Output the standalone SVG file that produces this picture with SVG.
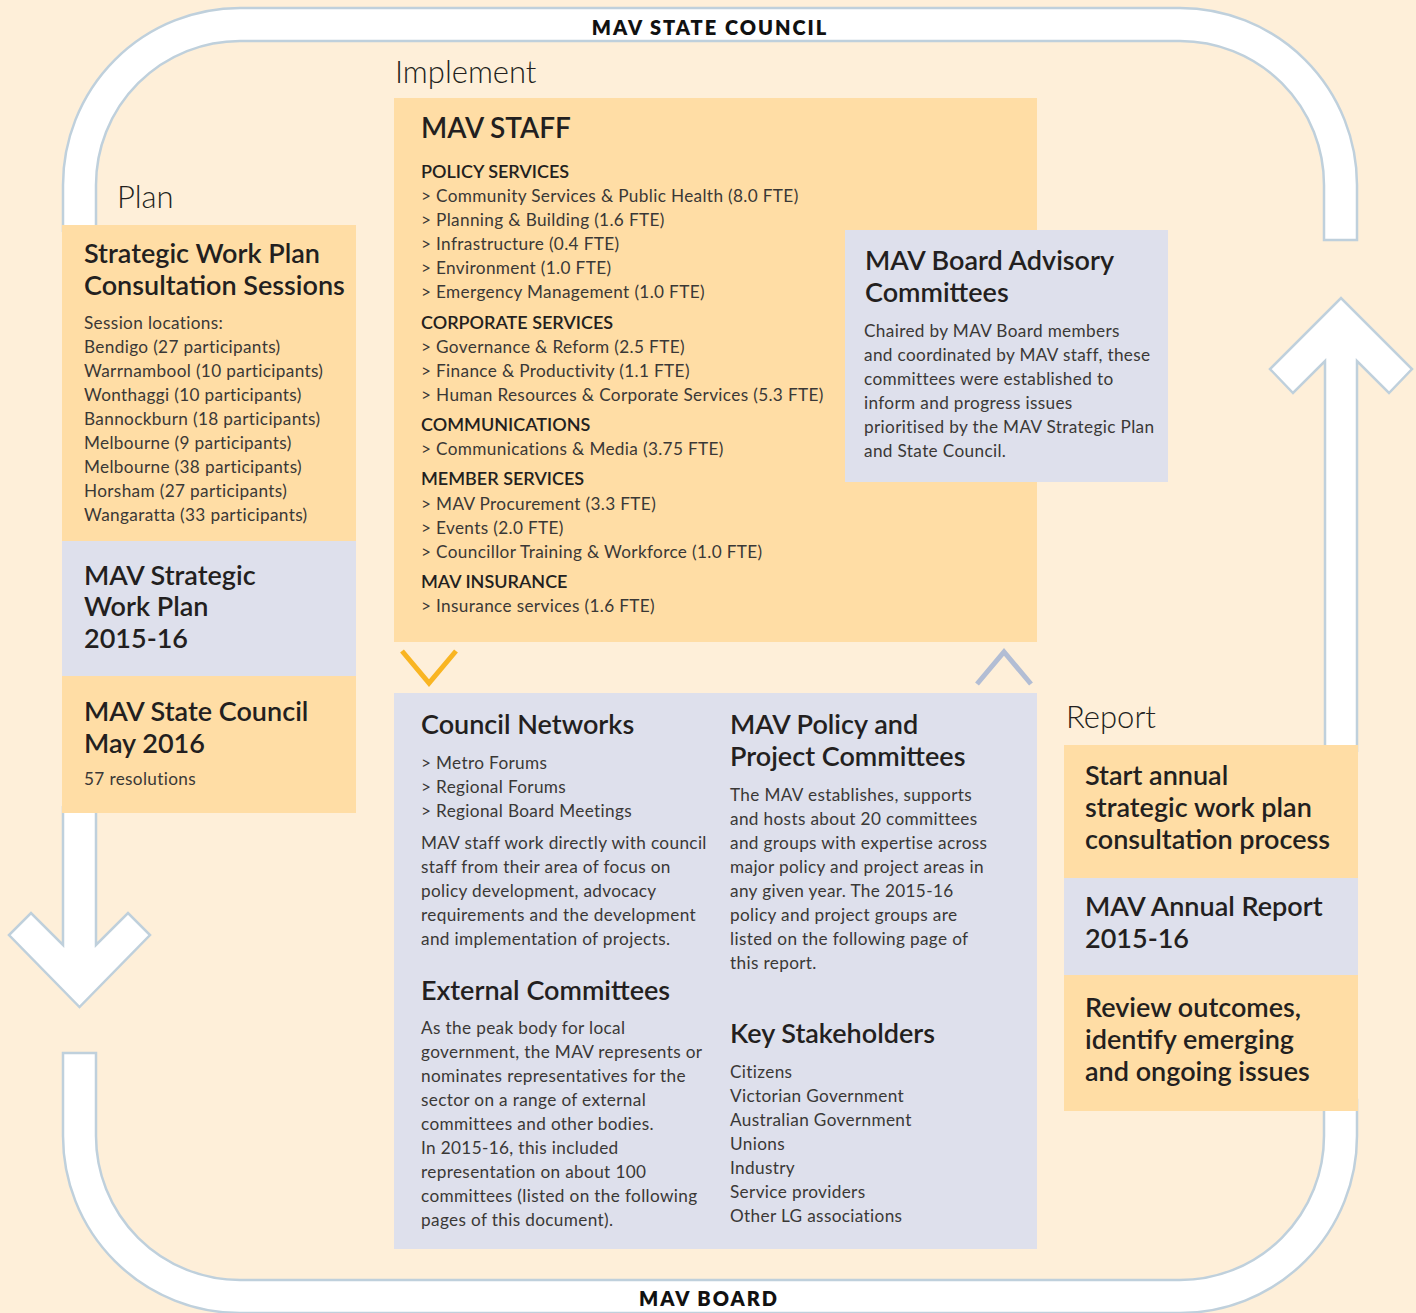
<svg xmlns="http://www.w3.org/2000/svg" width="1416" height="1313" viewBox="0 0 1416 1313">
<style>
text{font-family:Lato,"Liberation Sans",sans-serif;fill:#231F20}
.lbl{font-size:31px;font-weight:300}
.t{font-size:27px;font-weight:600}
.h{font-size:18px;font-weight:600}
.b{font-size:17.2px;letter-spacing:0.35px;fill:#3A3836}
.band{font-size:20px;font-weight:800;letter-spacing:2px;fill:#111;text-anchor:middle}
.or{fill:#FFDDA5}
.lv{fill:#DEE0EC}
.ring{fill:#FFFFFF;stroke:#BFD0DC;stroke-width:2.5;stroke-linejoin:miter}
.chev{fill:none;stroke-width:5}
</style>
<rect x="0" y="0" width="1416" height="1313" fill="#FEEFD9"/>
<g id="connectors">
<path class="ring" d="M63 232 L63 185 A177 177 0 0 1 240 8 L1180 8 A177 177 0 0 1 1357 185 L1357 240 L1324 240 L1324 185 A144 144 0 0 0 1180 41 L240 41 A144 144 0 0 0 96 185 L96 232"/>
<path class="ring" d="M63 806 L63 945 L31 913 L9 935 L79.5 1007 L150 935 L128 913 L96 945 L96 806"/>
<path class="ring" d="M63 1053 L96 1053 L96 1136 A144 144 0 0 0 240 1280 L1180 1280 A144 144 0 0 0 1324 1136 L1324 1100 L1357 1100 L1357 1136 A177 177 0 0 1 1180 1313 L240 1313 A177 177 0 0 1 63 1136 Z"/>
<path class="ring" d="M1325 752 L1325 361 L1293 393 L1270 369 L1341 298 L1412 369 L1389 393 L1357 361 L1357 752"/>
<polyline class="chev" stroke="#F9B522" points="402,651 429,683 456,651"/>
<polyline class="chev" stroke="#B2BDD4" points="977,684 1004,652 1031,684"/>
<text class="band" x="710" y="35">MAV STATE COUNCIL</text>
<text class="band" x="709" y="1306">MAV BOARD</text>
</g>
<g id="plan">
<text class="lbl" x="117" y="208">Plan</text>
<rect class="or" x="62" y="225" width="294" height="316"/>
<text class="t" x="84" y="263">Strategic Work Plan</text>
<text class="t" x="84" y="295">Consultation Sessions</text>
<text class="b" x="84" y="329">Session locations:</text>
<text class="b" x="84" y="353">Bendigo (27 participants)</text>
<text class="b" x="84" y="377">Warrnambool (10 participants)</text>
<text class="b" x="84" y="401">Wonthaggi (10 participants)</text>
<text class="b" x="84" y="425">Bannockburn (18 participants)</text>
<text class="b" x="84" y="449">Melbourne (9 participants)</text>
<text class="b" x="84" y="473">Melbourne (38 participants)</text>
<text class="b" x="84" y="497">Horsham (27 participants)</text>
<text class="b" x="84" y="521">Wangaratta (33 participants)</text>
</g>
<g id="strategic-plan">
<rect class="lv" x="62" y="541" width="294" height="135"/>
<text class="t" x="84" y="585">MAV Strategic</text>
<text class="t" x="84" y="616">Work Plan</text>
<text class="t" x="84" y="648">2015-16</text>
</g>
<g id="state-council">
<rect class="or" x="62" y="676" width="294" height="137"/>
<text class="t" x="84" y="721">MAV State Council</text>
<text class="t" x="84" y="753">May 2016</text>
<text class="b" x="84" y="785">57 resolutions</text>
</g>
<g id="mav-staff">
<text class="lbl" x="395" y="83">Implement</text>
<rect class="or" x="394" y="98" width="643" height="544"/>
<text class="t" x="421" y="138" style="font-size:28px">MAV STAFF</text>
<text class="h" x="421" y="178">POLICY SERVICES</text>
<text class="b" x="421" y="202">&gt; Community Services &amp; Public Health (8.0 FTE)</text>
<text class="b" x="421" y="226">&gt; Planning &amp; Building (1.6 FTE)</text>
<text class="b" x="421" y="250">&gt; Infrastructure (0.4 FTE)</text>
<text class="b" x="421" y="274">&gt; Environment (1.0 FTE)</text>
<text class="b" x="421" y="298">&gt; Emergency Management (1.0 FTE)</text>
<text class="h" x="421" y="329">CORPORATE SERVICES</text>
<text class="b" x="421" y="353">&gt; Governance &amp; Reform (2.5 FTE)</text>
<text class="b" x="421" y="377">&gt; Finance &amp; Productivity (1.1 FTE)</text>
<text class="b" x="421" y="401">&gt; Human Resources &amp; Corporate Services (5.3 FTE)</text>
<text class="h" x="421" y="431">COMMUNICATIONS</text>
<text class="b" x="421" y="455">&gt; Communications &amp; Media (3.75 FTE)</text>
<text class="h" x="421" y="485">MEMBER SERVICES</text>
<text class="b" x="421" y="510">&gt; MAV Procurement (3.3 FTE)</text>
<text class="b" x="421" y="534">&gt; Events (2.0 FTE)</text>
<text class="b" x="421" y="558">&gt; Councillor Training &amp; Workforce (1.0 FTE)</text>
<text class="h" x="421" y="588">MAV INSURANCE</text>
<text class="b" x="421" y="612">&gt; Insurance services (1.6 FTE)</text>
</g>
<g id="advisory">
<rect class="lv" x="845" y="230" width="323" height="252"/>
<text class="t" x="865" y="270">MAV Board Advisory</text>
<text class="t" x="865" y="302">Committees</text>
<text class="b" x="864" y="337">Chaired by MAV Board members</text>
<text class="b" x="864" y="361">and coordinated by MAV staff, these</text>
<text class="b" x="864" y="385">committees were established to</text>
<text class="b" x="864" y="409">inform and progress issues</text>
<text class="b" x="864" y="433">prioritised by the MAV Strategic Plan</text>
<text class="b" x="864" y="457">and State Council.</text>
</g>
<g id="networks">
<rect class="lv" x="394" y="693" width="643" height="556"/>
<text class="t" x="421" y="734">Council Networks</text>
<text class="b" x="421" y="769">&gt; Metro Forums</text>
<text class="b" x="421" y="793">&gt; Regional Forums</text>
<text class="b" x="421" y="817">&gt; Regional Board Meetings</text>
<text class="b" x="421" y="849">MAV staff work directly with council</text>
<text class="b" x="421" y="873">staff from their area of focus on</text>
<text class="b" x="421" y="897">policy development, advocacy</text>
<text class="b" x="421" y="921">requirements and the development</text>
<text class="b" x="421" y="945">and implementation of projects.</text>
</g>
<g id="external">
<text class="t" x="421" y="1000">External Committees</text>
<text class="b" x="421" y="1034">As the peak body for local</text>
<text class="b" x="421" y="1058">government, the MAV represents or</text>
<text class="b" x="421" y="1082">nominates representatives for the</text>
<text class="b" x="421" y="1106">sector on a range of external</text>
<text class="b" x="421" y="1130">committees and other bodies.</text>
<text class="b" x="421" y="1154">In 2015-16, this included</text>
<text class="b" x="421" y="1178">representation on about 100</text>
<text class="b" x="421" y="1202">committees (listed on the following</text>
<text class="b" x="421" y="1226">pages of this document).</text>
</g>
<g id="policy-committees">
<text class="t" x="730" y="734">MAV Policy and</text>
<text class="t" x="730" y="766">Project Committees</text>
<text class="b" x="730" y="801">The MAV establishes, supports</text>
<text class="b" x="730" y="825">and hosts about 20 committees</text>
<text class="b" x="730" y="849">and groups with expertise across</text>
<text class="b" x="730" y="873">major policy and project areas in</text>
<text class="b" x="730" y="897">any given year. The 2015-16</text>
<text class="b" x="730" y="921">policy and project groups are</text>
<text class="b" x="730" y="945">listed on the following page of</text>
<text class="b" x="730" y="969">this report.</text>
</g>
<g id="stakeholders">
<text class="t" x="730" y="1043">Key Stakeholders</text>
<text class="b" x="730" y="1078">Citizens</text>
<text class="b" x="730" y="1102">Victorian Government</text>
<text class="b" x="730" y="1126">Australian Government</text>
<text class="b" x="730" y="1150">Unions</text>
<text class="b" x="730" y="1174">Industry</text>
<text class="b" x="730" y="1198">Service providers</text>
<text class="b" x="730" y="1222">Other LG associations</text>
</g>
<g id="report-start">
<text class="lbl" x="1066" y="728">Report</text>
<rect class="or" x="1064" y="745" width="294" height="133"/>
<text class="t" x="1085" y="785">Start annual</text>
<text class="t" x="1085" y="817">strategic work plan</text>
<text class="t" x="1085" y="849">consultation process</text>
</g>
<g id="annual-report">
<rect class="lv" x="1064" y="878" width="294" height="97"/>
<text class="t" x="1085" y="916">MAV Annual Report</text>
<text class="t" x="1085" y="948">2015-16</text>
</g>
<g id="review">
<rect class="or" x="1064" y="975" width="294" height="136"/>
<text class="t" x="1085" y="1017">Review outcomes,</text>
<text class="t" x="1085" y="1049">identify emerging</text>
<text class="t" x="1085" y="1081">and ongoing issues</text>
</g>
</svg>
